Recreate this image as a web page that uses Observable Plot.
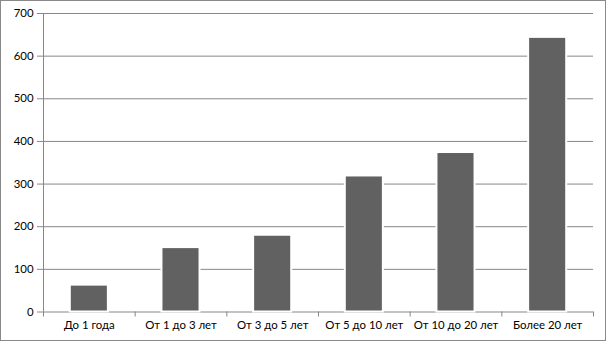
<!DOCTYPE html>
<html>
<head>
<meta charset="utf-8">
<script src="https://cdn.jsdelivr.net/npm/d3@7"></script>
<script src="https://cdn.jsdelivr.net/npm/@observablehq/plot@0.6"></script>
<style>
  html, body { margin: 0; padding: 0; background: #fff; }
  #chart svg { display: block; outline: 1px solid #898989; outline-offset: -1px; }
</style>
</head>
<body>
<div id="chart"></div>
<script>
const categories = ["До 1 года", "От 1 до 3 лет", "От 3 до 5 лет", "От 5 до 10 лет", "От 10 до 20 лет", "Более 20 лет"];
const values = [63, 151, 180, 319, 374, 644];
const yTicks = [0, 100, 200, 300, 400, 500, 600, 700];

const data = categories.map((c, i) => ({ i, category: c, value: values[i] }));
const gray = "#878787";

const chart = Plot.plot({
  width: 606,
  height: 341,
  marginLeft: 43,
  marginRight: 13,
  marginTop: 13,
  marginBottom: 29.5,
  style: { fontFamily: "Lato, 'Open Sans', sans-serif", fontSize: "11.4px", color: "#000", background: "#fff" },
  x: { type: "linear", domain: [0, categories.length] },
  y: { domain: [0, 700] },
  marks: [
    Plot.gridY(yTicks.filter(d => d > 0), { stroke: gray, strokeOpacity: 1 }),
    Plot.ruleY([0], { stroke: gray }),
    Plot.ruleX([0], { stroke: gray, y1: 0, y2: 700 }),
    Plot.rectY(data, {
      x1: d => d.i,
      x2: d => d.i + 1,
      y1: 0,
      y2: "value",
      insetLeft: 26.8,
      insetRight: 26.8,
      fill: "#616161",
      stroke: "#fff",
      strokeWidth: 2
    }),
    Plot.axisY({ ticks: yTicks, tickSize: 6, tickPadding: 4, stroke: gray, label: null, tickFormat: d3.format("d") }),
    Plot.axisX({ ticks: d3.range(categories.length + 1), tickSize: 5, tickFormat: () => "", stroke: gray, label: null }),
    Plot.axisX({ ticks: d3.range(categories.length).map(i => i + 0.5), tickSize: 0, tickPadding: 9, tickFormat: d => categories[Math.round(d - 0.5)], label: null })
  ]
});

document.getElementById("chart").append(chart);
</script>
</body>
</html>
